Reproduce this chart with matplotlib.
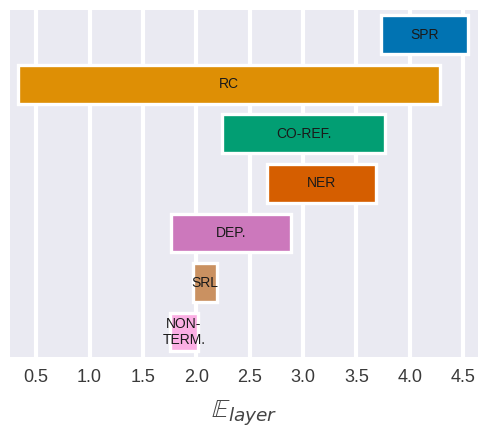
import matplotlib
matplotlib.use("Agg")
import matplotlib.pyplot as plt
import seaborn as sns

tasks = ["SPR", "RC", "CO-REF.", "NER", "DEP.", "SRL", "NON-\nTERM."]
left = [3.73, 0.33, 2.24, 2.66, 1.76, 1.97, 1.75]
right = [4.55, 4.28, 3.77, 3.68, 2.89, 2.19, 2.02]
colors = ["#0173b2", "#de8f05", "#029e73", "#d55e00", "#cc78bc", "#ca9161", "#fbafe4"]
xticks = [0.5, 1.0, 1.5, 2.0, 2.5, 3.0, 3.5, 4.0, 4.5]

sns.set_style("darkgrid")
plt.rcParams['font.family'] = ['Liberation Sans', 'DejaVu Sans']

fig = plt.figure(figsize=(4.78, 4.28), dpi=100)
ax = fig.add_axes([0.02, 0.166, 0.98, 0.811])

ypos = list(range(len(tasks)))
widths = [r - l for l, r in zip(left, right)]
ax.barh(ypos, widths, left=left, height=0.78, color=colors,
        edgecolor="white", linewidth=2.4, zorder=3)
for y, l, r, t in zip(ypos, left, right, tasks):
    ax.text((l + r) / 2, y, t, ha="center", va="center", fontsize=10,
            color="#1a1a1a", zorder=4, linespacing=1.15)

ax.set_xlim(0.25, 4.64)
ax.set_ylim(6.5, -0.5)
ax.set_yticks([])
ax.set_xticks(xticks)
ax.set_xticklabels([f"{v:.1f}" for v in xticks])
ax.tick_params(axis="x", labelsize=13, colors="#3a3a3a", pad=9, length=0)
ax.grid(axis="y", visible=False)
ax.grid(axis="x", color="white", linewidth=3)
for s in ax.spines.values():
    s.set_visible(False)
ax.set_xlabel(r"$\mathbb{E}_{layer}$", fontsize=19, color="#444444", labelpad=9)

fig.savefig("out.png", dpi=100)
